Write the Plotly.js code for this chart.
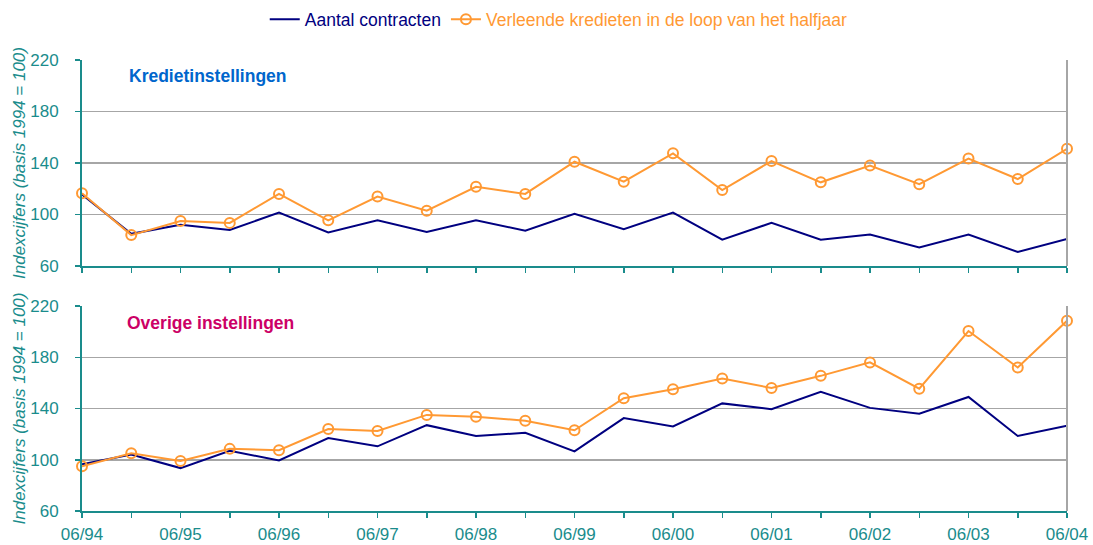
<!DOCTYPE html>
<html>
<head>
<meta charset="utf-8">
<script src="https://cdn.plot.ly/plotly-3.0.1.min.js"></script>
<style>html,body{margin:0;padding:0;background:#fff;}#chart{width:1093px;height:545px;}</style>
</head>
<body>
<div id="chart"></div>
<script>
const periods = ['06/94','12/94','06/95','12/95','06/96','12/96','06/97','12/97','06/98','12/98','06/99','12/99','06/00','12/00','06/01','12/01','06/02','12/02','06/03','12/03','06/04'];
const tickLabels = periods.map((p, i) => (i % 2 === 0 ? p : ''));

const kredietContracten = [115.5, 85, 92, 88, 101.5, 86, 95.5, 86.5, 95.5, 87.5, 100.5, 88.5, 101.5, 80.5, 93.5, 80.5, 84.5, 74.5, 84.5, 71, 81];
const kredietKredieten = [116.5, 84, 95, 93.5, 116, 95.5, 114, 103, 121.5, 116, 141, 125.5, 147.5, 119, 141.5, 125, 138, 123.5, 143.5, 127.5, 151];
const overigeContracten = [96.5, 104, 93.5, 107, 99.5, 117, 110.5, 127, 118.5, 121, 106.5, 132.5, 126, 144, 139.5, 153, 140.5, 136, 149, 118.5, 126.5];
const overigeKredieten = [95, 105, 99, 108.5, 107.5, 124, 122.5, 135, 133.5, 130.5, 123, 148, 155, 163.5, 156, 165.5, 176, 155.5, 200.5, 172, 208.5];

const yTicks = [60, 100, 140, 180, 220];

const navy = '#000080';
const orange = '#FF9933';
const teal = '#1A8C8C';
const grid = '#A6A6A6';
const family = 'Liberation Sans, Arial, sans-serif';

const lineTrace = (y, xa, ya, show) => ({
  x: periods, y: y, xaxis: xa, yaxis: ya, type: 'scatter', mode: 'lines',
  line: {color: navy, width: 2}, name: '<span style="color:' + navy + '">Aantal contracten</span>',
  showlegend: show, legendgroup: 'a', cliponaxis: false
});
const markerTrace = (y, xa, ya, show) => ({
  x: periods, y: y, xaxis: xa, yaxis: ya, type: 'scatter', mode: 'lines+markers',
  line: {color: orange, width: 2},
  marker: {symbol: 'circle-open', size: 10, color: orange, line: {width: 2, color: orange}},
  name: '<span style="color:' + orange + '">Verleende kredieten in de loop van het halfjaar</span>',
  showlegend: show, legendgroup: 'b', cliponaxis: false
});

const data = [
  lineTrace(kredietContracten, 'x', 'y', true),
  markerTrace(kredietKredieten, 'x', 'y', true),
  lineTrace(overigeContracten, 'x2', 'y2', false),
  markerTrace(overigeKredieten, 'x2', 'y2', false)
];

const tickFont = {family: family, size: 17, color: teal};

const xBase = (anchor, showLabels) => ({
  type: 'category', range: [0, periods.length - 1], anchor: anchor, automargin: false,
  tickmode: 'array', tickvals: periods, ticktext: tickLabels, showticklabels: showLabels,
  ticks: 'outside', ticklen: 5, tickcolor: teal, tickwidth: 1.5, ticklabelstandoff: 2,
  showline: true, linecolor: teal, linewidth: 2, showgrid: false, zeroline: false,
  tickfont: tickFont, fixedrange: true
});
const yBase = (anchor, domain) => ({
  domain: domain, anchor: anchor, range: [60, 220], tickmode: 'array', tickvals: yTicks, automargin: false,
  ticks: 'outside', ticklen: 5, tickcolor: teal, tickwidth: 1.5, ticklabelstandoff: 13,
  showline: true, linecolor: teal, linewidth: 2, showgrid: true, gridcolor: grid, gridwidth: 1.5,
  zeroline: false, tickfont: tickFont,
  title: {text: '<i>Indexcijfers (basis 1994 = 100)</i>', font: {family: family, size: 17, color: teal}, standoff: 0},
  fixedrange: true
});

const borderShapes = [];
[['x', 'y'], ['x2', 'y2']].forEach(([xa, ya]) => {
  borderShapes.push({type: 'line', xref: xa + ' domain', yref: ya + ' domain', x0: 1, x1: 1, y0: 0, y1: 1, line: {color: grid, width: 2}});
});

const layout = {
  width: 1093, height: 545,
  margin: {l: 82, r: 26, t: 60, b: 34, autoexpand: false},
  paper_bgcolor: '#ffffff', plot_bgcolor: '#ffffff',
  font: tickFont,
  showlegend: true,
  legend: {orientation: 'h', x: 0.484, xanchor: 'center', y: 1.09, yanchor: 'middle',
           font: {family: family, size: 17.5, color: navy}, tracegroupgap: 0},
  xaxis: xBase('y', false),
  yaxis: yBase('x', [0.5432, 1]),
  xaxis2: xBase('y2', true),
  yaxis2: yBase('x2', [0, 0.4545]),
  shapes: borderShapes,
  annotations: [
    {text: '<b>Kredietinstellingen</b>', xref: 'paper', yref: 'paper', x: 0.0457, y: 0.9645, xanchor: 'left', yanchor: 'middle', showarrow: false,
     font: {family: family, size: 17.5, color: '#0066CC'}},
    {text: '<b>Overige instellingen</b>', xref: 'paper', yref: 'paper', x: 0.0437, y: 0.4169, xanchor: 'left', yanchor: 'middle', showarrow: false,
     font: {family: family, size: 17.5, color: '#CC0066'}}
  ]
};

Plotly.newPlot('chart', data, layout, {displayModeBar: false, staticPlot: true});
</script>
</body>
</html>
